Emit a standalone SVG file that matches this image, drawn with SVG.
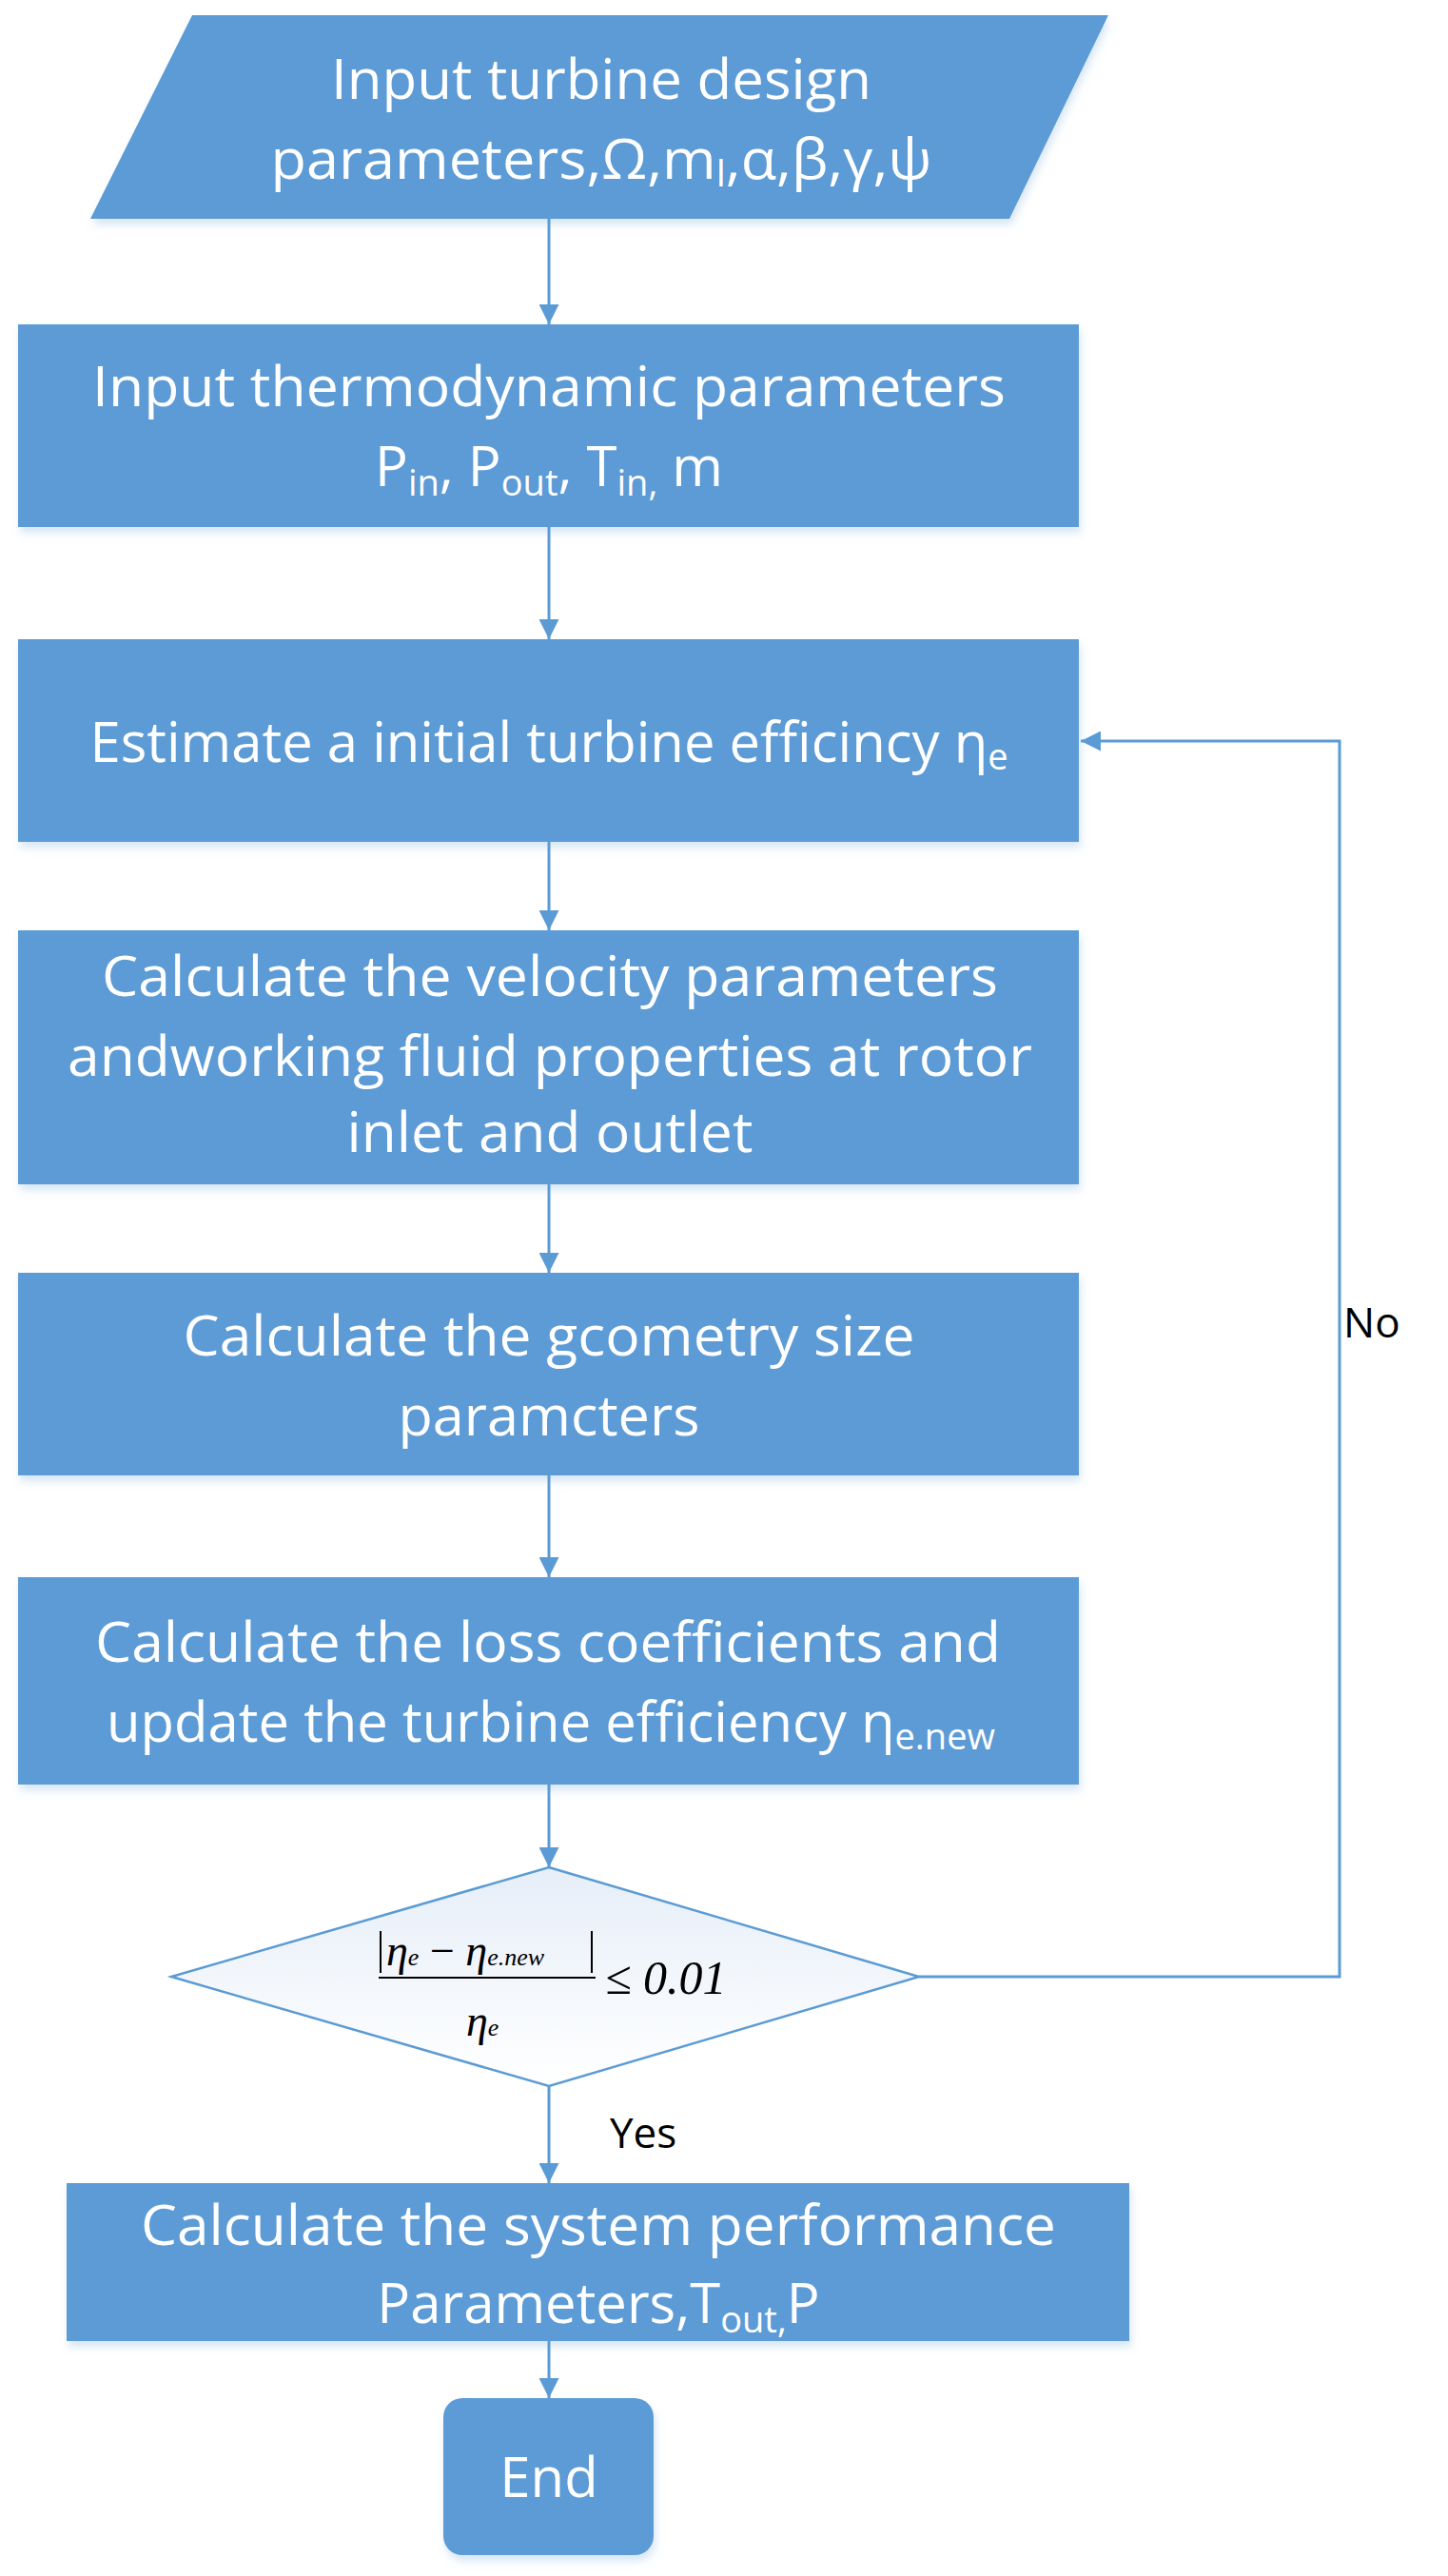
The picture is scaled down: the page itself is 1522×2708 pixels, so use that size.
<svg xmlns="http://www.w3.org/2000/svg" width="1522" height="2708" viewBox="0 0 1522 2708">
<style>
.n{fill:#5B9BD5;filter:url(#sh)}
.t{font-family:"Open Sans","Liberation Sans",sans-serif;font-size:58px;fill:#fff;text-anchor:middle}
.s{font-size:38px}
.c{stroke:#5B9BD5;stroke-width:3;fill:none;marker-end:url(#ah)}
.m{font-family:"Liberation Serif",serif;font-style:italic;fill:#000}
.l{font-family:"Open Sans","Liberation Sans",sans-serif;font-size:44px;fill:#000}
</style>
<defs>
<marker id="ah" viewBox="0 0 10 10" refX="10" refY="5" markerWidth="7" markerHeight="7" markerUnits="strokeWidth" orient="auto"><path d="M0,0L10,5L0,10z" fill="#5B9BD5"/></marker>
<filter id="sh" x="-5%" y="-5%" width="110%" height="115%"><feDropShadow dx="2" dy="6" stdDeviation="4" flood-color="#5B9BD5" flood-opacity="0.25"/></filter>
<linearGradient id="dg" x1="0" y1="0" x2="0" y2="1"><stop offset="0" stop-color="#E6EEF8"/><stop offset="1" stop-color="#FFFFFF"/></linearGradient>
</defs>
<rect width="1522" height="2708" fill="#fff"/>
<g id="connectors">
<line class="c" x1="577" y1="230" x2="577" y2="341"/>
<line class="c" x1="577" y1="554" x2="577" y2="672"/>
<line class="c" x1="577" y1="885" x2="577" y2="978"/>
<line class="c" x1="577" y1="1245" x2="577" y2="1338"/>
<line class="c" x1="577" y1="1551" x2="577" y2="1658"/>
<line class="c" x1="577" y1="1876" x2="577" y2="1963"/>
<line class="c" x1="577" y1="2193" x2="577" y2="2295"/>
<line class="c" x1="577" y1="2461" x2="577" y2="2521"/>
<polyline class="c" points="966,2078 1408,2078 1408,779 1136,779"/>
<text class="l" x="1412" y="1406">No</text>
<text class="l" x="641" y="2258">Yes</text>
</g>
<g id="n1">
<polygon class="n" points="202,16 1165,16 1061,230 95,230"/>
<text class="t" x="632" y="104" textLength="568" lengthAdjust="spacingAndGlyphs">Input turbine design</text>
<text class="t" x="632" y="188" textLength="695" lengthAdjust="spacingAndGlyphs">parameters,Ω,m<tspan class="s" dy="8">l</tspan><tspan dy="-8">,α,β,γ,ψ</tspan></text>
</g>
<g id="n2">
<rect class="n" x="19" y="341" width="1115" height="213"/>
<text class="t" x="577" y="427" textLength="960" lengthAdjust="spacingAndGlyphs">Input thermodynamic parameters</text>
<text class="t" x="577" y="511">P<tspan class="s" dy="10">in</tspan><tspan dy="-10">, P</tspan><tspan class="s" dy="10">out</tspan><tspan dy="-10">, T</tspan><tspan class="s" dy="10">in,</tspan><tspan dy="-10"> m</tspan></text>
</g>
<g id="n3">
<rect class="n" x="19" y="672" width="1115" height="213"/>
<text class="t" x="577" y="801">Estimate a initial turbine efficincy η<tspan class="s" dy="8">e</tspan></text>
</g>
<g id="n4">
<rect class="n" x="19" y="978" width="1115" height="267"/>
<text class="t" x="578" y="1047" textLength="942" lengthAdjust="spacingAndGlyphs">Calculate the velocity parameters</text>
<text class="t" x="578" y="1131" textLength="1014" lengthAdjust="spacingAndGlyphs">andworking fluid properties at rotor</text>
<text class="t" x="578" y="1211" textLength="427" lengthAdjust="spacingAndGlyphs">inlet and outlet</text>
</g>
<g id="n5">
<rect class="n" x="19" y="1338" width="1115" height="213"/>
<text class="t" x="577" y="1425" textLength="769" lengthAdjust="spacingAndGlyphs">Calculate the gcometry size</text>
<text class="t" x="577" y="1509" textLength="317" lengthAdjust="spacingAndGlyphs">paramcters</text>
</g>
<g id="n6">
<rect class="n" x="19" y="1658" width="1115" height="218"/>
<text class="t" x="576" y="1747" textLength="952" lengthAdjust="spacingAndGlyphs">Calculate the loss coefficients and</text>
<text class="t" x="579" y="1831">update the turbine efficiency  η<tspan class="s" dy="8">e.new</tspan></text>
</g>
<g id="n7">
<polygon points="577,1963 966,2078 577,2193 180,2078" fill="url(#dg)" stroke="#5B9BD5" stroke-width="2.5"/>
<line x1="398" y1="2079" x2="626" y2="2079" stroke="#000" stroke-width="2"/>
<line x1="400" y1="2030" x2="400" y2="2074" stroke="#000" stroke-width="2"/>
<line x1="622" y1="2030" x2="622" y2="2074" stroke="#000" stroke-width="2"/>
<text class="m" x="406" y="2066" font-size="46">η<tspan font-size="26">e</tspan><tspan font-style="normal"> − </tspan>η<tspan font-size="26">e.new</tspan></text>
<text class="m" x="490" y="2140" font-size="46">η<tspan font-size="26">e</tspan></text>
<text class="m" x="636" y="2096" font-size="50" font-style="normal">≤ 0.01</text>
</g>
<g id="n8">
<rect class="n" x="70" y="2295" width="1117" height="166"/>
<text class="t" x="629" y="2360" textLength="962" lengthAdjust="spacingAndGlyphs">Calculate the system performance</text>
<text class="t" x="629" y="2442">Parameters,T<tspan class="s" dy="10">out,</tspan><tspan dy="-10">P</tspan></text>
</g>
<g id="n9">
<rect class="n" x="466" y="2521" width="221" height="165" rx="20"/>
<text class="t" x="577" y="2625">End</text>
</g>
</svg>
